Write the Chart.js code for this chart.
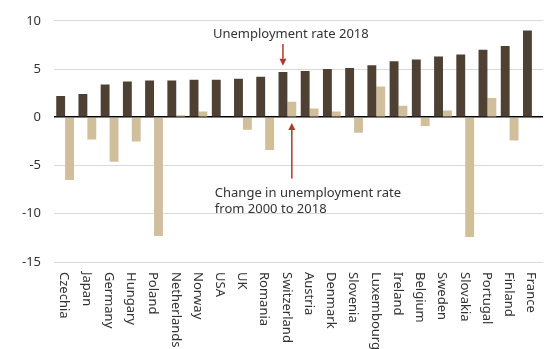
<!DOCTYPE html>
<html>
<head>
<meta charset="utf-8">
<script src="https://cdn.jsdelivr.net/npm/chart.js@4/dist/chart.umd.min.js"></script>
<style>
  html, body { margin: 0; padding: 0; background: #fff; }
  #wrap { width: 551px; height: 349px; position: relative; }
</style>
</head>
<body>
<div id="wrap"><canvas id="chart"></canvas></div>
<script>
// Unemployment rate in 2018 and its change since 2000, in % and percentage points
const countries = ['Czechia', 'Japan', 'Germany', 'Hungary', 'Poland', 'Netherlands', 'Norway', 'USA', 'UK', 'Romania',
  'Switzerland', 'Austria', 'Denmark', 'Slovenia', 'Luxembourg', 'Ireland', 'Belgium', 'Sweden', 'Slovakia',
  'Portugal', 'Finland', 'France'];
const rate2018 = [2.2, 2.4, 3.4, 3.7, 3.8, 3.8, 3.9, 3.9, 4.0, 4.2, 4.7, 4.8, 5.0, 5.1, 5.4, 5.8, 6.0, 6.3, 6.5, 7.0, 7.4, 9.0];
const change2000to2018 = [-6.5, -2.3, -4.6, -2.5, -12.3, 0.2, 0.6, 0.0, -1.3, -3.4, 1.6, 0.9, 0.6, -1.6, 3.2, 1.2, -0.9, 0.7, -12.4, 2.0, -2.4, -0.1];
const yTickValues = [10, 5, 0, -5, -10, -15];

const FONT = '"Noto Sans", "Open Sans", sans-serif';
const TEXT = '#333333';
const ARROW = '#b0392f';

// category labels run downward, rotated a quarter turn clockwise
const verticalLabels = {
  id: 'verticalLabels',
  afterDraw(chart) {
    const { ctx, chartArea } = chart;
    const xs = chart.scales.x;
    ctx.save();
    ctx.font = '13px ' + FONT;
    ctx.fillStyle = TEXT;
    ctx.textAlign = 'left';
    ctx.textBaseline = 'middle';
    countries.forEach((name, i) => {
      const x = xs.getPixelForTick(i) - 1;
      ctx.save();
      ctx.translate(x, chartArea.bottom + 10);
      ctx.rotate(Math.PI / 2);
      ctx.fillText(name, 0, 0);
      ctx.restore();
    });
    ctx.restore();
  }
};

function arrow(ctx, x, yFrom, yTo) {
  const dir = yTo > yFrom ? 1 : -1;
  const head = 7;
  ctx.beginPath();
  ctx.moveTo(x, yFrom);
  ctx.lineTo(x, yTo - dir * head);
  ctx.stroke();
  ctx.beginPath();
  ctx.moveTo(x, yTo);
  ctx.lineTo(x - 3.5, yTo - dir * head);
  ctx.lineTo(x + 3.5, yTo - dir * head);
  ctx.closePath();
  ctx.fill();
}

// callouts naming the two series
const callouts = {
  id: 'callouts',
  afterDatasetsDraw(chart) {
    const { ctx } = chart;
    const y = chart.scales.y;
    const idx = countries.indexOf('Switzerland');
    const xRate = chart.getDatasetMeta(0).data[idx].x;
    const xChange = chart.getDatasetMeta(1).data[idx].x;
    ctx.save();
    ctx.strokeStyle = ARROW;
    ctx.fillStyle = ARROW;
    ctx.lineWidth = 1.5;
    arrow(ctx, xRate, y.getPixelForValue(7.6), y.getPixelForValue(5.35));
    arrow(ctx, xChange, y.getPixelForValue(-6.35), y.getPixelForValue(-0.58));
    ctx.font = '13px ' + FONT;
    ctx.fillStyle = TEXT;
    ctx.textAlign = 'left';
    ctx.textBaseline = 'middle';
    ctx.fillText('Unemployment rate 2018', xRate - 70, y.getPixelForValue(8.6));
    ctx.fillText('Change in unemployment rate', xChange - 77, y.getPixelForValue(-7.9));
    ctx.fillText('from 2000 to 2018', xChange - 77, y.getPixelForValue(-9.55));
    ctx.restore();
  }
};

new Chart(document.getElementById('chart'), {
  type: 'bar',
  data: {
    labels: countries,
    datasets: [
      { label: 'Unemployment rate 2018', data: rate2018, backgroundColor: '#4f4034',
        barPercentage: 1, categoryPercentage: 0.8 },
      { label: 'Change in unemployment rate from 2000 to 2018', data: change2000to2018, backgroundColor: '#d1bf9b',
        barPercentage: 1, categoryPercentage: 0.8 }
    ]
  },
  options: {
    responsive: true,
    maintainAspectRatio: false,
    animation: false,
    devicePixelRatio: 1,
    layout: { padding: { top: 8, right: 8, left: 0, bottom: 0 } },
    plugins: { legend: { display: false }, tooltip: { enabled: false } },
    scales: {
      x: {
        grid: { display: false },
        border: { display: false },
        ticks: { display: false },
        afterFit(scale) { scale.height = 87; }
      },
      y: {
        min: -15,
        max: 10,
        afterBuildTicks(scale) { scale.ticks = yTickValues.map(v => ({ value: v })); },
        border: { display: false },
        grid: {
          drawTicks: false,
          color: ctx => ctx.tick && ctx.tick.value === 0 ? '#000000' : '#d9d9d9',
          lineWidth: ctx => ctx.tick && ctx.tick.value === 0 ? 1.6 : 1
        },
        ticks: {
          padding: 13,
          color: TEXT,
          font: { family: FONT, size: 13 }
        },
        afterFit(scale) { scale.width = 54; }
      }
    }
  },
  plugins: [verticalLabels, callouts]
});
</script>
</body>
</html>
